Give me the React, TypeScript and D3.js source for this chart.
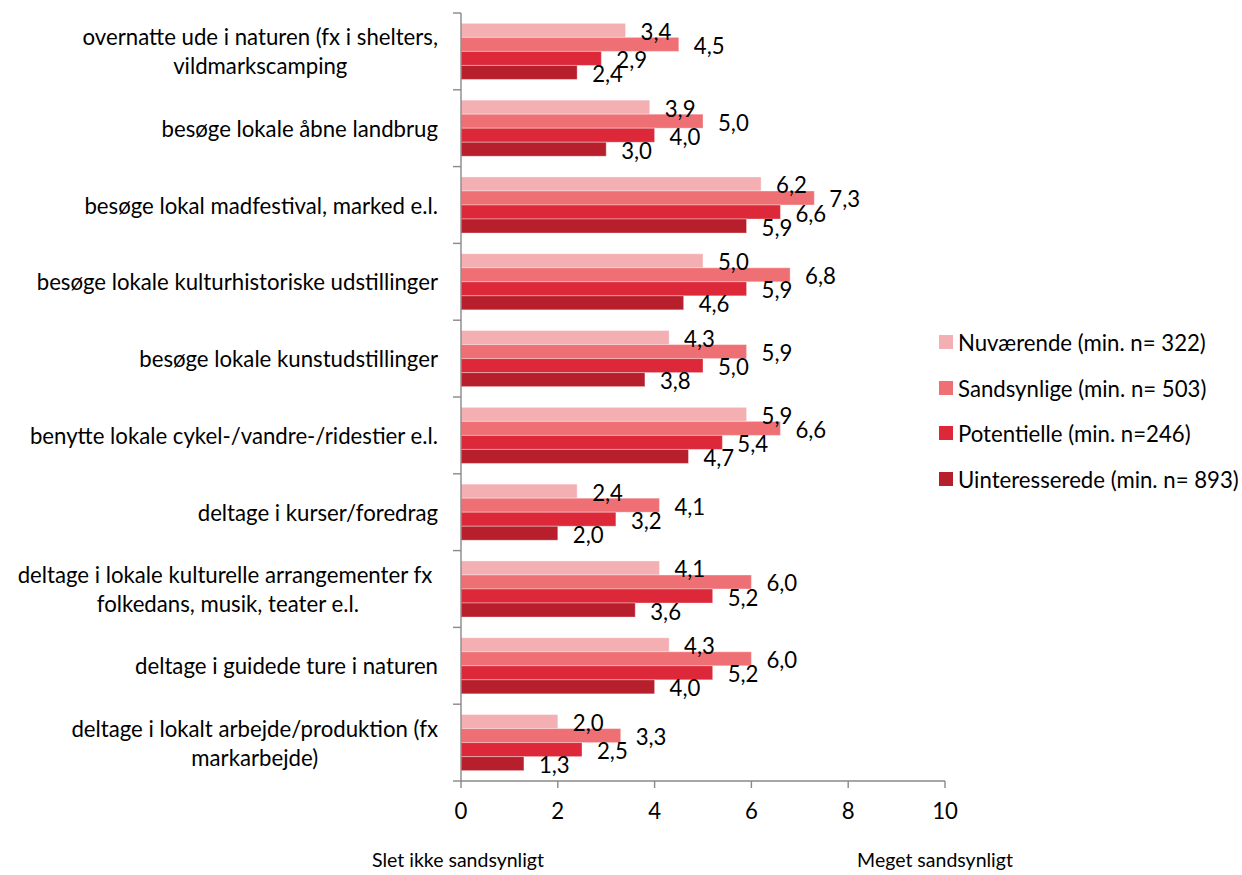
import React, { useEffect, useRef } from "react";
import * as d3 from "d3";

// Activity categories, top to bottom; each entry lists the wrapped lines of its label
const categories: string[][] = [
  ["overnatte ude i naturen (fx i shelters,", "vildmarkscamping"],
  ["besøge lokale åbne landbrug"],
  ["besøge lokal madfestival, marked e.l."],
  ["besøge lokale kulturhistoriske udstillinger"],
  ["besøge lokale kunstudstillinger"],
  ["benytte lokale cykel-/vandre-/ridestier e.l."],
  ["deltage i kurser/foredrag"],
  ["deltage i lokale kulturelle arrangementer fx\u00a0", "folkedans, musik, teater e.l."],
  ["deltage i guidede ture i naturen"],
  ["deltage i lokalt arbejde/produktion (fx", "markarbejde)"],
];

const seriesNames = [
  "Nuværende (min. n= 322)",
  "Sandsynlige (min. n= 503)",
  "Potentielle (min. n=246)",
  "Uinteresserede (min. n= 893)",
];

const seriesColors = ["#F4AFB3", "#EE7075", "#DC2839", "#B81F2C"];

// Mean score per category for each group
const nuvaerende = [3.4, 3.9, 6.2, 5.0, 4.3, 5.9, 2.4, 4.1, 4.3, 2.0];
const sandsynlige = [4.5, 5.0, 7.3, 6.8, 5.9, 6.6, 4.1, 6.0, 6.0, 3.3];
const potentielle = [2.9, 4.0, 6.6, 5.9, 5.0, 5.4, 3.2, 5.2, 5.2, 2.5];
const uinteresserede = [2.4, 3.0, 5.9, 4.6, 3.8, 4.7, 2.0, 3.6, 4.0, 1.3];

const xTicks = [0, 2, 4, 6, 8, 10];
const axisLow = "Slet ikke sandsynligt";
const axisHigh = "Meget sandsynligt";

const FONT = "Lato, 'Open Sans', sans-serif";
const FS = 22.2;
const FS_SMALL = 19.5;
const AXIS = "#898989";

export default function App() {
  const ref = useRef<SVGSVGElement | null>(null);

  useEffect(() => {
    const svg = d3.select(ref.current);
    svg.selectAll("*").remove();

    const seriesValues = [nuvaerende, sandsynlige, potentielle, uinteresserede];
    const catIdx = categories.map((_, i) => i);

    const x = d3.scaleLinear().domain([0, 10]).range([461, 945]);
    const y = d3.scaleBand<number>().domain(catIdx).range([13, 781]).padding(0);
    const bandH = y.bandwidth();
    const sub = d3
      .scaleBand<number>()
      .domain([0, 1, 2, 3])
      .range([bandH * 0.135, bandH * 0.865]);

    const g = svg.append("g");

    // bars
    seriesValues.forEach((vals, s) => {
      g.append("g")
        .selectAll("rect")
        .data(vals)
        .join("rect")
        .attr("x", x(0))
        .attr("y", (_, i) => (y(i) as number) + (sub(s) as number))
        .attr("width", (v) => x(v) - x(0))
        .attr("height", sub.bandwidth())
        .attr("fill", seriesColors[s])
        .attr("stroke", "rgba(255,255,255,0.35)")
        .attr("stroke-width", 1);
    });

    // value labels
    seriesValues.forEach((vals, s) => {
      g.append("g")
        .selectAll("text")
        .data(vals)
        .join("text")
        .attr("x", (v) => x(v) + 15)
        .attr("y", (_, i) => (y(i) as number) + (sub(s) as number) + sub.bandwidth() / 2 + 1)
        .attr("dominant-baseline", "central")
        .attr("font-family", FONT)
        .attr("font-size", FS)
        .attr("fill", "#000")
        .text((v) => d3.format(".1f")(v).replace(".", ","));
    });

    // left axis
    g.append("line")
      .attr("x1", x(0)).attr("x2", x(0))
      .attr("y1", 13).attr("y2", 781)
      .attr("stroke", AXIS).attr("stroke-width", 1.4);
    const bounds = [...catIdx.map((i) => y(i) as number), 781];
    g.append("g")
      .selectAll("line")
      .data(bounds)
      .join("line")
      .attr("x1", x(0) - 8).attr("x2", x(0))
      .attr("y1", (d) => d).attr("y2", (d) => d)
      .attr("stroke", AXIS).attr("stroke-width", 1.4);

    // bottom axis
    g.append("line")
      .attr("x1", x(0)).attr("x2", x(10))
      .attr("y1", 781).attr("y2", 781)
      .attr("stroke", AXIS).attr("stroke-width", 1.4);
    g.append("g")
      .selectAll("line")
      .data(xTicks)
      .join("line")
      .attr("x1", (d) => x(d)).attr("x2", (d) => x(d))
      .attr("y1", 781).attr("y2", 788)
      .attr("stroke", AXIS).attr("stroke-width", 1.4);
    g.append("g")
      .selectAll("text")
      .data(xTicks)
      .join("text")
      .attr("x", (d) => x(d))
      .attr("y", 810)
      .attr("text-anchor", "middle")
      .attr("dominant-baseline", "central")
      .attr("font-family", FONT)
      .attr("font-size", FS)
      .text((d) => String(d));

    // end-of-scale captions
    g.append("text")
      .attr("x", 458).attr("y", 867)
      .attr("text-anchor", "middle")
      .attr("font-family", FONT).attr("font-size", FS_SMALL)
      .text(axisLow);
    g.append("text")
      .attr("x", 935).attr("y", 867)
      .attr("text-anchor", "middle")
      .attr("font-family", FONT).attr("font-size", FS_SMALL)
      .text(axisHigh);

    // category labels: block right-aligned, lines centred within the block
    const lineGap = 29;
    categories.forEach((lines, i) => {
      const cy = (y(i) as number) + bandH / 2;
      const tg = g.append("g");
      const texts = lines.map((ln, k) =>
        tg
          .append("text")
          .attr("y", cy + (k - (lines.length - 1) / 2) * lineGap)
          .attr("dominant-baseline", "central")
          .attr("text-anchor", "middle")
          .attr("font-family", FONT)
          .attr("font-size", FS)
          .style("white-space", "pre")
          .text(ln)
      );
      const widths = texts.map((t) => (t.node() as SVGTextElement).getComputedTextLength());
      const w = Math.max(...widths);
      texts.forEach((t) => t.attr("x", 438 - w / 2));
    });

    // legend
    const legendY = [342, 388, 433, 479];
    seriesNames.forEach((name, s) => {
      g.append("rect")
        .attr("x", 939).attr("y", legendY[s] - 7)
        .attr("width", 14).attr("height", 14)
        .attr("fill", seriesColors[s]);
      g.append("text")
        .attr("x", 958).attr("y", legendY[s])
        .attr("dominant-baseline", "central")
        .attr("font-family", FONT).attr("font-size", FS)
        .text(name);
    });
  }, []);

  return (
    <svg
      ref={ref}
      width={1242}
      height={875}
      style={{ position: "absolute", left: 0, top: 0, background: "#fff" }}
    />
  );
}
